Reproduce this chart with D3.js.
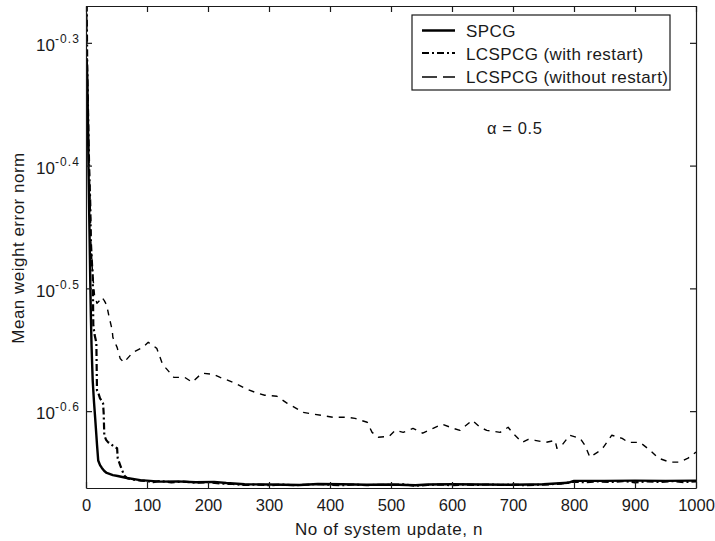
<!DOCTYPE html>
<html>
<head>
<meta charset="utf-8">
<script src="https://cdn.jsdelivr.net/npm/d3@7/dist/d3.min.js"></script>
<style>
  html, body { margin: 0; padding: 0; background: #fff; }
  svg { display: block; }
  text { font-family: "Liberation Sans", Arial, Helvetica, sans-serif; fill: #1a1a1a; }
</style>
</head>
<body>
<svg id="chart" width="715" height="541"></svg>
<script>
// ---------------- data ----------------
const xTicks = [0, 100, 200, 300, 400, 500, 600, 700, 800, 900, 1000];
const yTickExps = [-0.6, -0.5, -0.4, -0.3];
const seriesNames = ["SPCG", "LCSPCG (with restart)", "LCSPCG (without restart)"];
const annotation = "\u03b1 = 0.5";
const xLabel = "No of system update, n";
const yLabel = "Mean weight error norm";

const spcg = [
  [1,0.487],[2,0.47],[3,0.44],[4,0.40],[5,0.37],[6,0.345],[7,0.32],[8,0.30],[9,0.285],[10,0.275],
  [11,0.266],[13,0.256],[15,0.248],[17,0.240],[18,0.236],[20,0.229],[23,0.227],[26,0.2258],[30,0.2245],
  [34,0.2237],[44,0.2228],[52,0.2224],[67,0.2216],[89,0.2207],[121,0.2201],[150,0.2202],[180,0.2198],
  [210,0.2200],[230,0.2195],[260,0.2190],[300,0.2189],[350,0.2187],[380,0.2191],[420,0.2190],[460,0.2188],
  [500,0.2189],[540,0.2186],[560,0.2189],[600,0.2190],[650,0.2189],[700,0.2188],[750,0.2190],[770,0.2193],
  [790,0.2196],[800,0.2204],[850,0.2204],[900,0.2205],[950,0.2204],[1000,0.2205]
];

const withRestart = [
  [0,0.62],[1,0.55],[2,0.48],[3,0.45],[5,0.40],[7,0.37],[8,0.345],[10,0.33],[11,0.325],[12,0.295],
  [14,0.290],[16,0.287],[17,0.285],[18,0.2612],[20,0.260],[23,0.2573],[26,0.2560],[28,0.2549],[29,0.2500],
  [30,0.2400],[33,0.2380],[36,0.2370],[39,0.2366],[45,0.2352],[51,0.2343],[52,0.2300],[56,0.2270],[59,0.2249],
  [62,0.2232],[64,0.2222],[68,0.2215],[72,0.2212],[80,0.2208],[90,0.2205],[100,0.2203],[110,0.2199],
  [120,0.2203],[140,0.2198],[160,0.2201],[180,0.2196],[200,0.2199],[220,0.2193],[240,0.2191],[260,0.2187],
  [280,0.2189],[300,0.2186],[320,0.2189],[340,0.2186],[360,0.2188],[380,0.2191],[400,0.2188],[420,0.2186],
  [440,0.2189],[460,0.2186],[480,0.2188],[500,0.2187],[520,0.2190],[540,0.2184],[560,0.2187],[580,0.2189],
  [600,0.2186],[620,0.2189],[640,0.2187],[660,0.2189],[680,0.2187],[700,0.2189],[720,0.2186],[740,0.2188],
  [760,0.2190],[780,0.2193],[800,0.2201],[820,0.2198],[840,0.2202],[860,0.2199],[880,0.2203],[900,0.2198],
  [920,0.2202],[940,0.2199],[960,0.2203],[980,0.2199],[1000,0.2202]
];

const withoutRestart = [
  [0,0.62],[1,0.55],[2,0.48],[3,0.45],[5,0.40],[7,0.37],[8,0.345],[10,0.33],[11,0.325],[14,0.312],
  [18,0.3075],[22,0.309],[26,0.311],[30,0.309],[34,0.3064],[38,0.2995],[43,0.2924],[44,0.2885],[51,0.2831],
  [56,0.2773],[62,0.2752],[77,0.2805],[93,0.2831],[102,0.2858],[116,0.2826],[125,0.2747],[131,0.2723],
  [144,0.2676],[162,0.2676],[174,0.2652],[190,0.2697],[208,0.2692],[220,0.2676],[233,0.2661],[244,0.2647],
  [264,0.2617],[282,0.2597],[293,0.2588],[313,0.2583],[330,0.2549],[339,0.2535],[356,0.2506],[375,0.2497],
  [387,0.2492],[405,0.2483],[428,0.2483],[441,0.2478],[461,0.2460],[469,0.2414],[479,0.2392],[497,0.2396],
  [507,0.2423],[520,0.2414],[536,0.2432],[552,0.2410],[569,0.2432],[584,0.2451],[602,0.2432],[613,0.2423],
  [633,0.2469],[646,0.2437],[657,0.2423],[679,0.2414],[692,0.2437],[700,0.2410],[715,0.2369],[725,0.2382],
  [736,0.2378],[754,0.2369],[769,0.2378],[772,0.2343],[780,0.2356],[793,0.2401],[810,0.2387],[818,0.2356],
  [826,0.2304],[839,0.2326],[848,0.2347],[862,0.2401],[879,0.2387],[889,0.2369],[908,0.2369],[925,0.2334],
  [938,0.2300],[957,0.2283],[974,0.2283],[987,0.2300],[1000,0.2326]
];

// ---------------- layout ----------------
const W = 715, H = 541;
const m = { left: 86, top: 6, right: 696, bottom: 488 };
const svg = d3.select("#chart");
const ink = "#1a1a1a";

const x = d3.scaleLinear().domain([0, 1000]).range([m.left, m.right]);
const y = d3.scaleLog().domain([Math.pow(10, -0.6626), Math.pow(10, -0.27)]).range([m.bottom, m.top]);
const yTickVals = yTickExps.map(e => Math.pow(10, e));

svg.append("rect").attr("x", 0).attr("y", 0).attr("width", W).attr("height", H).attr("fill", "#fff");

svg.append("defs").append("clipPath").attr("id", "plotclip")
  .append("rect").attr("x", m.left).attr("y", m.top)
  .attr("width", m.right - m.left).attr("height", m.bottom - m.top);

// ---------------- data lines ----------------
const line = d3.line().x(d => x(d[0])).y(d => y(d[1]));
const plot = svg.append("g").attr("clip-path", "url(#plotclip)");

const styles = [
  { data: spcg, width: 2.4, dash: null },
  { data: withRestart, width: 2.2, dash: "7,3,2,3" },
  { data: withoutRestart, width: 1.4, dash: "6,6" }
];
[2, 1, 0].forEach(i => {
  const s = styles[i];
  plot.append("path").datum(s.data)
    .attr("d", line)
    .attr("fill", "none")
    .attr("stroke", "#000")
    .attr("stroke-width", s.width)
    .attr("stroke-dasharray", s.dash)
    .attr("stroke-linejoin", "round");
});

// ---------------- axes ----------------
function styleAxis(g) {
  g.selectAll("path.domain").attr("stroke", ink).attr("stroke-width", 1.2);
  g.selectAll(".tick line").attr("stroke", ink).attr("stroke-width", 1.2);
}

const gx = svg.append("g").attr("transform", `translate(0,${m.bottom})`)
  .call(d3.axisBottom(x).tickValues(xTicks).tickSize(-6).tickSizeOuter(0).tickPadding(11).tickFormat(d3.format("d")));
styleAxis(gx);
gx.selectAll(".tick text").attr("font-size", 16.5).attr("fill", ink)
  .style("font-family", "'Liberation Sans', Arial, sans-serif");

const gxt = svg.append("g").attr("transform", `translate(0,${m.top})`)
  .call(d3.axisTop(x).tickValues(xTicks).tickSize(-6).tickSizeOuter(0).tickFormat(""));
styleAxis(gxt);

const gy = svg.append("g").attr("transform", `translate(${m.left},0)`)
  .call(d3.axisLeft(y).tickValues(yTickVals).tickSize(-6).tickSizeOuter(0).tickFormat(""));
styleAxis(gy);
gy.selectAll(".tick").each(function(d, i) {
  const t = d3.select(this).select("text");
  t.attr("x", -6).attr("dy", "0.45em").attr("text-anchor", "end")
    .attr("font-size", 17).attr("fill", ink)
    .style("font-family", "'Liberation Sans', Arial, sans-serif");
  t.text(null);
  t.append("tspan").text("10");
  t.append("tspan").attr("dy", -8).attr("font-size", 12).attr("letter-spacing", 1.1)
    .text(String(yTickExps[i]));
});

const gyr = svg.append("g").attr("transform", `translate(${m.right},0)`)
  .call(d3.axisRight(y).tickValues(yTickVals).tickSize(-6).tickSizeOuter(0).tickFormat(""));
styleAxis(gyr);

// ---------------- labels ----------------
svg.append("text").attr("x", (m.left + m.right) / 2 - 2).attr("y", 535)
  .attr("text-anchor", "middle").attr("font-size", 17).attr("letter-spacing", 0.6)
  .text(xLabel);

svg.append("text").attr("transform", "translate(24,248) rotate(-90)")
  .attr("text-anchor", "middle").attr("font-size", 17).attr("letter-spacing", 0.5)
  .text(yLabel);

svg.append("text").attr("x", 487).attr("y", 134)
  .attr("font-size", 16.5).attr("letter-spacing", 0.6)
  .text(annotation);

// ---------------- legend ----------------
const lg = svg.append("g");
lg.append("rect").attr("x", 412).attr("y", 15).attr("width", 258).attr("height", 75)
  .attr("fill", "#fff").attr("stroke", ink).attr("stroke-width", 1.2);
const rowsY = [30.5, 53, 77];
const baseY = [36.5, 59.5, 82.5];
seriesNames.forEach((name, i) => {
  const s = styles[i];
  lg.append("line").attr("x1", 422).attr("x2", 455).attr("y1", rowsY[i]).attr("y2", rowsY[i])
    .attr("stroke", "#000").attr("stroke-width", s.width)
    .attr("stroke-dasharray", i === 2 ? "15,6" : s.dash);
  lg.append("text").attr("x", 466).attr("y", baseY[i])
    .attr("font-size", 17).attr("letter-spacing", 0.4)
    .text(name);
});
</script>
</body>
</html>
